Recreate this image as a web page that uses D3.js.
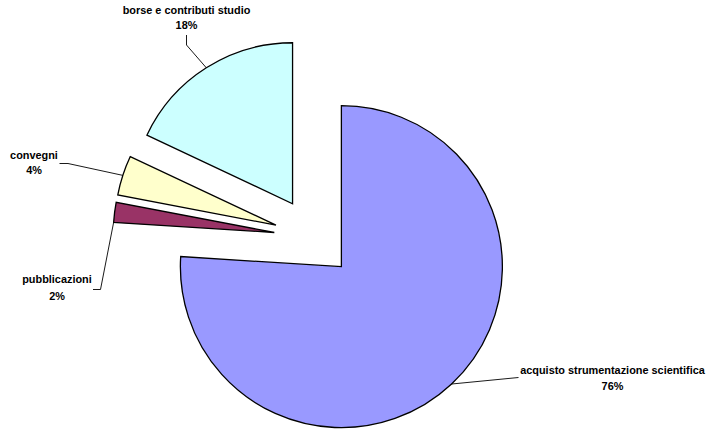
<!DOCTYPE html>
<html>
<head>
<meta charset="utf-8">
<script src="https://cdn.jsdelivr.net/npm/d3@7"></script>
<style>
  html, body { margin: 0; padding: 0; background: #fff; }
  svg { display: block; }
  text { font-family: "Liberation Sans", Arial, sans-serif; font-weight: bold; font-size: 10.9px; fill: #000; }
</style>
</head>
<body>
<svg id="chart" width="709" height="430"></svg>
<script>
// ---- data ----
const categories = ["acquisto strumentazione scientifica", "pubblicazioni", "convegni", "borse e contributi studio"];
const values = [76, 2, 4, 18];
const percentLabels = ["76%", "2%", "4%", "18%"];
const colors = ["#9999FF", "#993366", "#FFFFCC", "#CCFFFF"];

// ---- layout ----
const W = 709, H = 430;
const cx = 314, cy = 237.5, R = 161, explode = 40;
const labelLayout = [
  { x: 612.5, y1: 373.5, y2: 389.5, start: [518.5, 377.5], elbow: [518.5, 377.5], attach: "mid" },
  { x: 57,    y1: 283,   y2: 300,   start: [93, 289.5],    elbow: [100.5, 289.5], attach: "start" },
  { x: 34,    y1: 158.5, y2: 174,   start: [59.5, 163.5],  elbow: [68, 163.5],    attach: "mid" },
  { x: 186.5, y1: 13.5,  y2: 29,    start: [186.5, 35],    elbow: [186.5, 45],    attach: "mid" }
];

const svg = d3.select("#chart");
const data = categories.map((c, i) => ({ name: c, value: values[i], pct: percentLabels[i], color: colors[i], i }));

const pie = d3.pie().sort(null).value(d => d.value).startAngle(0).endAngle(2 * Math.PI);
const arcs = pie(data);
const arcGen = d3.arc().innerRadius(0).outerRadius(R);

function offsetOf(a) {
  const m = (a.startAngle + a.endAngle) / 2;
  return [cx + explode * Math.sin(m), cy - explode * Math.cos(m)];
}

const g = svg.append("g");
g.selectAll("path.slice")
  .data(arcs)
  .join("path")
  .attr("class", "slice")
  .attr("transform", d => { const o = offsetOf(d); return `translate(${o[0]},${o[1]})`; })
  .attr("d", arcGen)
  .attr("fill", d => d.data.color)
  .attr("stroke", "#000")
  .attr("stroke-width", 1.3)
  .attr("stroke-linejoin", "miter");

// leader lines
arcs.forEach((a, k) => {
  const L = labelLayout[k];
  const o = offsetOf(a);
  const ang = L.attach === "start" ? a.startAngle : (a.startAngle + a.endAngle) / 2;
  const p = [o[0] + R * Math.sin(ang), o[1] - R * Math.cos(ang)];
  const line = d3.line();
  svg.append("path")
    .attr("d", line([L.start, L.elbow, p]))
    .attr("fill", "none")
    .attr("stroke", "#000")
    .attr("stroke-width", 0.9);
  svg.append("text").attr("x", L.x).attr("y", L.y1).attr("text-anchor", "middle").text(a.data.name);
  svg.append("text").attr("x", L.x).attr("y", L.y2).attr("text-anchor", "middle").text(a.data.pct);
});
</script>
</body>
</html>
